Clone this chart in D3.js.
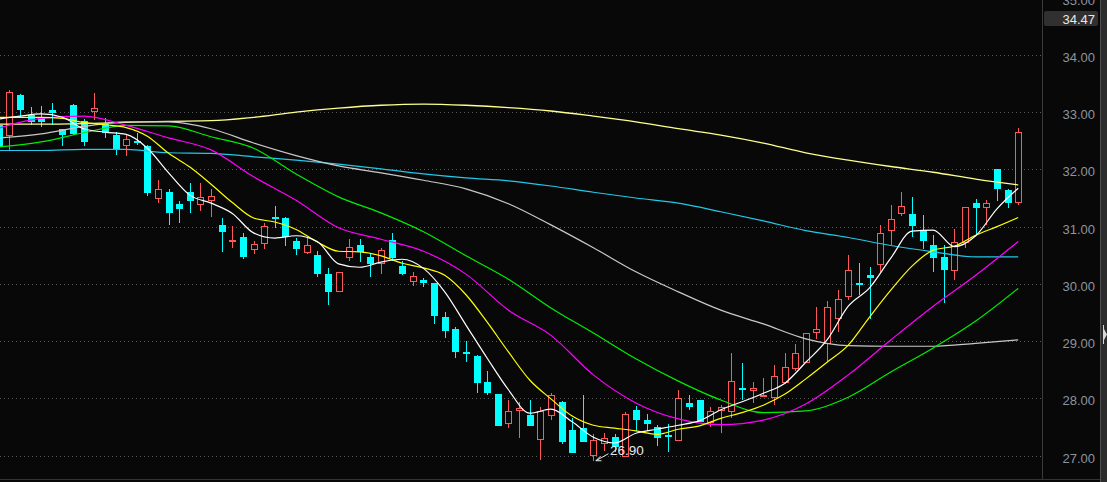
<!DOCTYPE html>
<html><head><meta charset="utf-8">
<script src="https://cdn.jsdelivr.net/npm/d3@7"></script>
<style>
html,body{margin:0;padding:0;background:#080808;overflow:hidden}
svg{display:block}
</style></head><body>
<svg id="c" width="1107" height="482"></svg>
<script>
// ---- candle data (index 0..96) ----
const opens  = [32.77,32.58,33.29,32.94,32.90,33.03,32.69,33.11,32.84,32.99,32.78,32.59,32.39,32.49,32.40,31.48,31.59,31.38,31.60,31.36,31.44,31.02,30.74,30.80,30.59,30.68,31.16,31.14,30.74,30.53,30.49,30.17,29.85,30.45,30.67,30.46,30.33,30.76,30.30,30.02,30.06,30.00,29.41,29.20,28.80,28.73,28.28,28.07,27.55,27.77,27.70,27.26,27.69,27.93,27.44,27.47,26.99,27.20,27.31,26.97,27.79,27.61,27.49,27.35,27.25,27.90,27.96,27.56,27.77,27.75,28.17,28.11,28.03,27.99,28.25,28.50,28.61,29.13,28.94,29.37,29.76,30.01,30.14,30.32,30.92,31.21,31.21,30.93,30.67,30.46,30.22,30.70,31.41,31.31,31.99,31.63,31.40];
const highs  = [32.80,33.38,33.30,33.08,33.10,33.15,32.70,33.13,32.87,33.32,32.89,32.64,32.60,32.62,32.42,31.80,31.65,31.43,31.75,31.75,31.64,31.14,31.00,30.87,30.74,31.05,31.35,31.16,30.79,30.79,30.57,30.26,30.19,30.77,30.77,30.52,30.61,30.87,30.39,30.20,30.10,30.01,29.49,29.24,29.00,28.75,28.47,28.07,27.96,27.93,27.96,27.84,28.08,27.94,27.65,28.05,27.37,27.38,27.37,27.75,27.86,27.72,27.52,27.54,28.14,28.05,27.96,27.84,27.87,28.79,28.60,28.28,28.35,28.57,28.79,28.94,29.14,29.58,29.69,29.89,30.49,30.35,30.28,31.02,31.36,31.60,31.50,31.19,30.84,30.67,30.95,31.34,31.48,31.45,32.00,31.65,32.71];
const lows   = [32.33,32.33,32.91,32.77,32.73,32.77,32.39,32.59,32.40,32.85,32.54,32.24,32.23,32.42,31.52,31.41,31.01,31.05,31.22,31.27,31.16,30.55,30.62,30.42,30.51,30.60,30.97,30.66,30.49,30.52,30.11,29.62,29.85,30.39,30.38,30.11,30.16,30.39,30.14,29.96,29.94,29.29,29.05,28.69,28.62,28.08,28.04,27.51,27.47,27.30,27.50,26.92,27.61,27.20,27.04,27.22,26.90,27.07,27.05,26.96,27.42,27.42,27.16,27.06,27.24,27.78,27.57,27.49,27.38,27.64,27.96,27.91,28.02,27.87,28.24,28.46,28.60,29.02,28.63,29.15,29.71,29.80,29.38,30.20,30.67,31.18,30.80,30.60,30.20,29.65,30.06,30.61,30.84,31.02,31.43,31.31,31.36];
const closes = [32.38,33.34,33.02,32.81,32.82,32.97,32.59,32.60,32.46,33.07,32.62,32.33,32.52,32.48,31.58,31.64,31.23,31.30,31.43,31.50,31.52,30.90,30.75,30.46,30.68,31.00,31.15,30.80,30.60,30.67,30.16,29.84,30.19,30.64,30.55,30.34,30.58,30.44,30.17,30.13,30.01,29.42,29.17,28.80,28.79,28.26,28.09,27.51,27.77,27.82,27.51,27.77,28.05,27.22,27.04,27.23,27.27,27.29,27.14,27.72,27.61,27.55,27.29,27.31,27.99,27.83,27.58,27.77,27.83,28.29,28.16,28.17,28.04,28.38,28.53,28.78,29.13,29.20,29.58,29.72,30.24,29.99,30.10,30.88,31.12,31.35,31.00,30.73,30.44,30.23,30.72,31.33,31.32,31.40,31.64,31.41,32.64];

// ---- moving averages, read at candle indices ----
const maIdxFine   = [0,2,4,6,8,10,12,14,16,18,20,22,24,26,28,30,32,34,36,38,40,42,44,46,48,50,52,54,56,58,60,62,64,66,68,70,72,74,76,78,80,82,84,86,88,90,92,94,96];
const maIdxCoarse = [0,4,8,12,16,20,24,28,32,36,40,44,48,52,56,60,64,68,72,76,80,84,88,92,96];
const ma5   = [32.87,32.92,32.96,32.90,32.70,32.64,32.60,32.36,31.93,31.54,31.40,31.22,30.88,30.79,30.83,30.73,30.34,30.28,30.37,30.42,30.26,29.85,29.27,28.69,28.14,27.73,27.80,27.58,27.31,27.21,27.38,27.45,27.52,27.60,27.79,27.93,28.08,28.25,28.62,29.01,29.60,29.92,30.44,30.91,30.93,30.64,30.83,31.30,31.66];
const ma10  = [32.90,32.90,32.90,32.88,32.81,32.77,32.72,32.57,32.27,32.03,31.73,31.41,31.14,31.07,30.94,30.72,30.56,30.55,30.48,30.35,30.27,30.14,29.80,29.32,28.80,28.31,27.98,27.68,27.52,27.47,27.42,27.36,27.45,27.51,27.64,27.74,27.87,28.06,28.33,28.62,28.92,29.41,29.88,30.30,30.58,30.65,30.84,30.99,31.15];
const ma20  = [32.71,32.88,32.92,32.76,32.54,32.33,31.86,31.45,30.97,30.77,30.56,30.16,29.53,29.09,28.40,27.91,27.63,27.53,27.61,27.89,28.40,29.01,29.60,30.14,30.73];
const ma30  = [32.38,32.47,32.63,32.76,32.75,32.56,32.36,31.91,31.51,31.23,30.90,30.48,30.07,29.57,29.13,28.68,28.29,27.96,27.74,27.77,28.01,28.45,28.87,29.34,29.91];
const ma60  = [32.54,32.61,32.74,32.82,32.82,32.70,32.45,32.23,32.05,31.93,31.80,31.65,31.39,31.02,30.62,30.20,29.85,29.53,29.29,29.03,28.91,28.90,28.90,28.95,29.01];
const ma120 = [32.32,32.32,32.34,32.34,32.28,32.27,32.21,32.15,32.08,32.00,31.91,31.84,31.79,31.70,31.59,31.49,31.40,31.25,31.09,30.92,30.80,30.66,30.55,30.46,30.46];
const ma250 = [32.78,32.78,32.79,32.81,32.83,32.84,32.90,32.99,33.06,33.11,33.13,33.11,33.07,33.01,32.92,32.82,32.70,32.59,32.45,32.28,32.15,32.04,31.94,31.82,31.72];

// ---- axis / labels ----
const priceTicks = [27,28,29,30,31,32,33,34,35];
const lastPrice = 34.47;
const lowValue = 26.90;
const lowIndex = 56;

const svg = d3.select('#c');
const x = d3.scaleLinear().domain([0, 96]).range([-1.3, 1018.2]);
const y = d3.scaleLinear().domain([27, 35]).range([455, -2.92]);
const fmt = d3.format('.2f');
const FONT = '"Liberation Sans", Arial, sans-serif';

svg.append('rect').attr('width',1107).attr('height',482).attr('fill','#080808');

// dotted gridlines
const grid = svg.append('g').attr('transform','translate(1041,0.5)')
  .call(d3.axisLeft(y).tickValues(priceTicks).tickSize(1041).tickFormat(''));
grid.select('.domain').remove();
grid.selectAll('line').attr('stroke','#5a5a5a').attr('stroke-dasharray','1,3').attr('shape-rendering','crispEdges');

// candles
const candles = opens.map((o,i)=>({i,o,h:highs[i],l:lows[i],c:closes[i]}));
const cg = svg.append('g').attr('shape-rendering','crispEdges');
const UP='#ff5858', DN='#00ffff';
candles.forEach(d=>{
  const cx = Math.round(x(d.i));
  const up = d.c >= d.o;
  const col = up ? UP : DN;
  const top = Math.round(y(Math.max(d.o,d.c)));
  let bot = Math.round(y(Math.min(d.o,d.c)));
  if (bot - top < 1) bot = top + 1;
  const yh = Math.round(y(d.h)), yl = Math.round(y(d.l));
  if (up) {
    if (yh < top) cg.append('line').attr('x1',cx+0.5).attr('x2',cx+0.5).attr('y1',yh).attr('y2',top).attr('stroke',col);
    if (yl > bot) cg.append('line').attr('x1',cx+0.5).attr('x2',cx+0.5).attr('y1',bot).attr('y2',yl).attr('stroke',col);
    if (bot - top <= 2) {
      cg.append('rect').attr('x',cx-3).attr('y',top).attr('width',7).attr('height',Math.max(2,bot-top)).attr('fill',col);
    } else {
      cg.append('rect').attr('x',cx-2.5).attr('y',top+0.5).attr('width',6).attr('height',bot-top-1)
        .attr('fill','#080808').attr('stroke',col).attr('stroke-width',1);
    }
  } else {
    cg.append('line').attr('x1',cx+0.5).attr('x2',cx+0.5).attr('y1',yh).attr('y2',yl).attr('stroke',col);
    cg.append('rect').attr('x',cx-3).attr('y',top).attr('width',7).attr('height',Math.max(2,bot-top)).attr('fill',col);
  }
});

// moving average lines
const line = d3.line().x(d=>x(d[0])).y(d=>y(d[1])).curve(d3.curveMonotoneX);
const maDefs = [
  {idx:maIdxCoarse, v:ma250, col:'#ffff8c', w:1.3},
  {idx:maIdxCoarse, v:ma120, col:'#22c8e8', w:1.2},
  {idx:maIdxCoarse, v:ma60,  col:'#c8c8c8', w:1.2},
  {idx:maIdxCoarse, v:ma30,  col:'#00ee00', w:1.2},
  {idx:maIdxCoarse, v:ma20,  col:'#ff00ff', w:1.2},
  {idx:maIdxFine,   v:ma10,  col:'#ffff00', w:1.2},
  {idx:maIdxFine,   v:ma5,   col:'#ffffff', w:1.2}
];
const lg = svg.append('g');
maDefs.forEach(m=>{
  lg.append('path').datum(m.idx.map((k,j)=>[k,m.v[j]]))
    .attr('d',line).attr('fill','none').attr('stroke',m.col).attr('stroke-width',m.w);
});

// low annotation
const lx = x(lowIndex), ly = y(lowValue);
const ag = svg.append('g').attr('stroke','#e8e8e8').attr('stroke-width',1).attr('fill','none');
ag.append('line').attr('x1',lx+15).attr('y1',ly-7).attr('x2',lx+2.5).attr('y2',ly);
ag.append('path').attr('d',`M${lx+7},${ly-4.5} L${lx+2.5},${ly} L${lx+8},${ly}`);
svg.append('text').attr('x',lx+16.5).attr('y',ly-5.5).text(fmt(lowValue))
  .attr('fill','#e6e6e6').attr('font-family',FONT).attr('font-size','13.5px');

// right price panel
svg.append('rect').attr('x',1042).attr('y',0).attr('width',58).attr('height',482).attr('fill','#080808');
svg.append('line').attr('x1',1042.5).attr('x2',1042.5).attr('y1',0).attr('y2',480).attr('stroke','#3a3a3a');
svg.append('line').attr('x1',0).attr('x2',1100).attr('y1',479.5).attr('y2',479.5).attr('stroke','#333');
const ax = svg.append('g').attr('transform','translate(1095,0)')
  .call(d3.axisLeft(y).tickValues(priceTicks).tickSize(0).tickPadding(0).tickFormat(fmt));
ax.select('.domain').remove();
ax.selectAll('text').attr('fill','#8e949c').attr('font-family',FONT).attr('font-size','13px').attr('dy','0.55em');

// last price box
svg.append('rect').attr('x',1044).attr('y',11).attr('width',54).attr('height',15).attr('rx',2).attr('fill','#303030');
svg.append('text').attr('x',1095).attr('y',23.5).attr('text-anchor','end').text(fmt(lastPrice))
  .attr('fill','#e8e8e8').attr('font-family',FONT).attr('font-size','13px');

// scrollbar strip
svg.append('rect').attr('x',1100).attr('y',0).attr('width',7).attr('height',482).attr('fill','#2c2c2c');
svg.append('line').attr('x1',1100.5).attr('x2',1100.5).attr('y1',0).attr('y2',482).attr('stroke','#505050');
svg.append('line').attr('x1',1103.5).attr('x2',1103.5).attr('y1',325).attr('y2',344).attr('stroke','#d8d8d8');
svg.append('path').attr('d','M1104,329 L1107,334.5 L1104,340 Z').attr('fill','#d8d8d8');
</script>
</body></html>
